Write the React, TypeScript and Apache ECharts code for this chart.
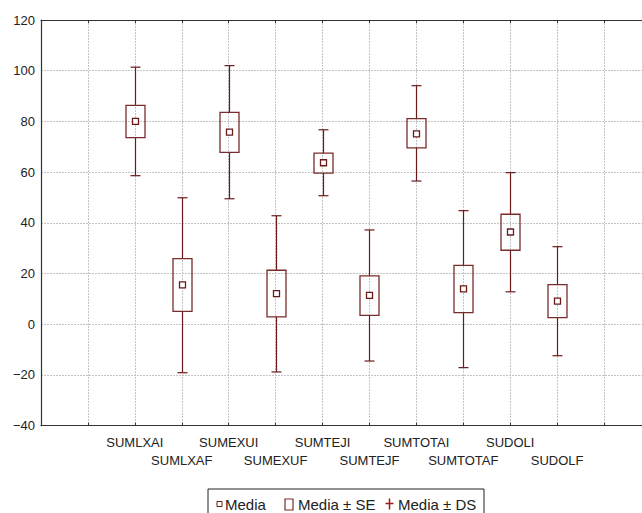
import React, { useEffect, useRef } from "react";
import * as echarts from "echarts";

const categories = ["SUMLXAI", "SUMLXAF", "SUMEXUI", "SUMEXUF", "SUMTEJI", "SUMTEJF", "SUMTOTAI", "SUMTOTAF", "SUDOLI", "SUDOLF"];
const means = [80.0, 15.5, 75.8, 12.1, 63.7, 11.4, 75.1, 14.0, 36.4, 9.1];
const seLow = [73.6, 5.1, 67.8, 2.9, 59.6, 3.5, 69.6, 4.6, 29.2, 2.6];
const seHigh = [86.3, 25.9, 83.6, 21.3, 67.5, 19.1, 81.1, 23.2, 43.4, 15.6];
const sdLow = [58.6, -19.1, 49.5, -18.8, 50.7, -14.5, 56.5, -17.1, 12.8, -12.4];
const sdHigh = [101.4, 49.9, 102.0, 42.8, 76.7, 37.2, 94.1, 44.8, 59.8, 30.6];
const legendLabels = ["Media", "Media ± SE", "Media ± DS"];
const yTicks = { min: -40, max: 120, interval: 20 };
const xOffset = 2;

const FONT = "'Liberation Sans', Arial, sans-serif";
const WHISKER = "#6b1a1a";
const BOX = "#7a2c2c";
const MEAN = "#6b1a1a";
const GRIDC = "#c4c4c4";
const AXISC = "#333333";

export default function App() {
  const ref = useRef<HTMLDivElement>(null);
  useEffect(() => {
    if (!ref.current) return;
    const chart = echarts.init(ref.current, null, { renderer: "svg" });
    const data = categories.map((_, i) => [i + xOffset, means[i], seLow[i], seHigh[i], sdLow[i], sdHigh[i]]);

    const renderItem = (params: any, api: any) => {
      const x = api.value(0);
      const m = api.coord([x, api.value(1)]);
      const bl = api.coord([x, api.value(2)]);
      const bh = api.coord([x, api.value(3)]);
      const wl = api.coord([x, api.value(4)]);
      const wh = api.coord([x, api.value(5)]);
      const cx = Math.round(m[0]) + 0.5;
      const bw = 19;
      const cw = 10;
      const ms = 6;
      const lineStyle = { stroke: WHISKER, lineWidth: 1.2, fill: "none" };
      return {
        type: "group",
        children: [
          { type: "line", shape: { x1: cx, y1: wh[1], x2: cx, y2: bh[1] }, style: lineStyle },
          { type: "line", shape: { x1: cx, y1: bl[1], x2: cx, y2: wl[1] }, style: lineStyle },
          { type: "line", shape: { x1: cx - cw / 2, y1: wh[1], x2: cx + cw / 2, y2: wh[1] }, style: lineStyle },
          { type: "line", shape: { x1: cx - cw / 2, y1: wl[1], x2: cx + cw / 2, y2: wl[1] }, style: lineStyle },
          {
            type: "rect",
            shape: { x: cx - bw / 2, y: bh[1], width: bw, height: bl[1] - bh[1] },
            style: { stroke: BOX, lineWidth: 1.3, fill: "none" },
          },
          {
            type: "rect",
            shape: { x: cx - ms / 2, y: m[1] - ms / 2, width: ms, height: ms },
            style: { stroke: MEAN, lineWidth: 1.3, fill: "#fff" },
          },
        ],
      };
    };

    const lx = 208;
    const ly = 504;
    const option: any = {
      animation: false,
      textStyle: { fontFamily: FONT },
      grid: { left: 41, top: 20, right: 9, bottom: 513 - 425.7, containLabel: false },
      xAxis: [
        {
          type: "value",
          position: "bottom",
          min: 0,
          max: 13,
          interval: 1,
          axisLine: { show: true, onZero: false, lineStyle: { color: AXISC, width: 1.2 } },
          axisTick: { show: true, inside: true, length: 3, lineStyle: { color: AXISC } },
          splitLine: { show: true, lineStyle: { color: GRIDC, type: [2, 1], width: 1 } },
          axisLabel: {
            show: true,
            margin: 8,
            fontSize: 13,
            color: "#222",
            fontFamily: FONT,
            lineHeight: 18,
            hideOverlap: false,
            formatter: (v: number) => {
              const i = Math.round(v) - xOffset;
              if (i < 0 || i >= categories.length) return "";
              return i % 2 === 1 ? "\n" + categories[i] : categories[i];
            },
          },
        },
        {
          type: "value",
          position: "top",
          min: 0,
          max: 13,
          interval: 1,
          axisLine: { show: true, onZero: false, lineStyle: { color: AXISC, width: 1.2 } },
          axisTick: { show: true, inside: true, length: 3, lineStyle: { color: AXISC } },
          splitLine: { show: false },
          axisLabel: { show: false },
        },
      ],
      yAxis: {
        type: "value",
        min: yTicks.min,
        max: yTicks.max,
        interval: yTicks.interval,
        axisLine: { show: true, onZero: false, lineStyle: { color: AXISC, width: 1.2 } },
        axisTick: { show: false },
        splitLine: { show: true, lineStyle: { color: GRIDC, type: [2, 1], width: 1 } },
        axisLabel: {
          margin: 6,
          fontSize: 13,
          color: "#222",
          fontFamily: FONT,
          formatter: (v: number) => (v < 0 ? "−" + Math.abs(v) : String(v)),
        },
      },
      series: [
        {
          type: "custom",
          name: "Media",
          renderItem,
          data,
          encode: { x: 0, y: [1, 2, 3, 4, 5] },
          clip: false,
          z: 5,
        },
      ],
      graphic: [
        {
          type: "rect",
          shape: { x: lx, y: 489, width: 276, height: 30 },
          style: { stroke: "#222", lineWidth: 1, fill: "#fff" },
          z: 10,
        },
        {
          type: "rect",
          shape: { x: 217, y: ly - 2.5, width: 5, height: 5 },
          style: { stroke: MEAN, lineWidth: 1, fill: "#fff" },
          z: 11,
        },
        {
          type: "text",
          x: 225,
          y: ly,
          style: { text: legendLabels[0], font: `15px ${FONT}`, fill: "#222", verticalAlign: "middle", textAlign: "left" },
          z: 11,
        },
        {
          type: "rect",
          shape: { x: 285, y: ly - 5, width: 8, height: 11 },
          style: { stroke: BOX, lineWidth: 1.2, fill: "#fff" },
          z: 11,
        },
        {
          type: "text",
          x: 298,
          y: ly,
          style: { text: legendLabels[1], font: `15px ${FONT}`, fill: "#222", verticalAlign: "middle", textAlign: "left" },
          z: 11,
        },
        {
          type: "line",
          shape: { x1: 389.5, y1: ly - 5.5, x2: 389.5, y2: ly + 5.5 },
          style: { stroke: "#a01818", lineWidth: 1.5 },
          z: 11,
        },
        {
          type: "line",
          shape: { x1: 385.5, y1: ly - 0.5, x2: 393.5, y2: ly - 0.5 },
          style: { stroke: "#a01818", lineWidth: 1.5 },
          z: 11,
        },
        {
          type: "text",
          x: 398,
          y: ly,
          style: { text: legendLabels[2], font: `15px ${FONT}`, fill: "#222", verticalAlign: "middle", textAlign: "left" },
          z: 11,
        },
      ],
    };
    chart.setOption(option);
    return () => chart.dispose();
  }, []);
  return (
    <div style={{ position: "fixed", left: 0, top: 0, width: 642, height: 513, overflow: "hidden", background: "#fff" }}>
      <div ref={ref} style={{ width: 660, height: 513 }} />
    </div>
  );
}
